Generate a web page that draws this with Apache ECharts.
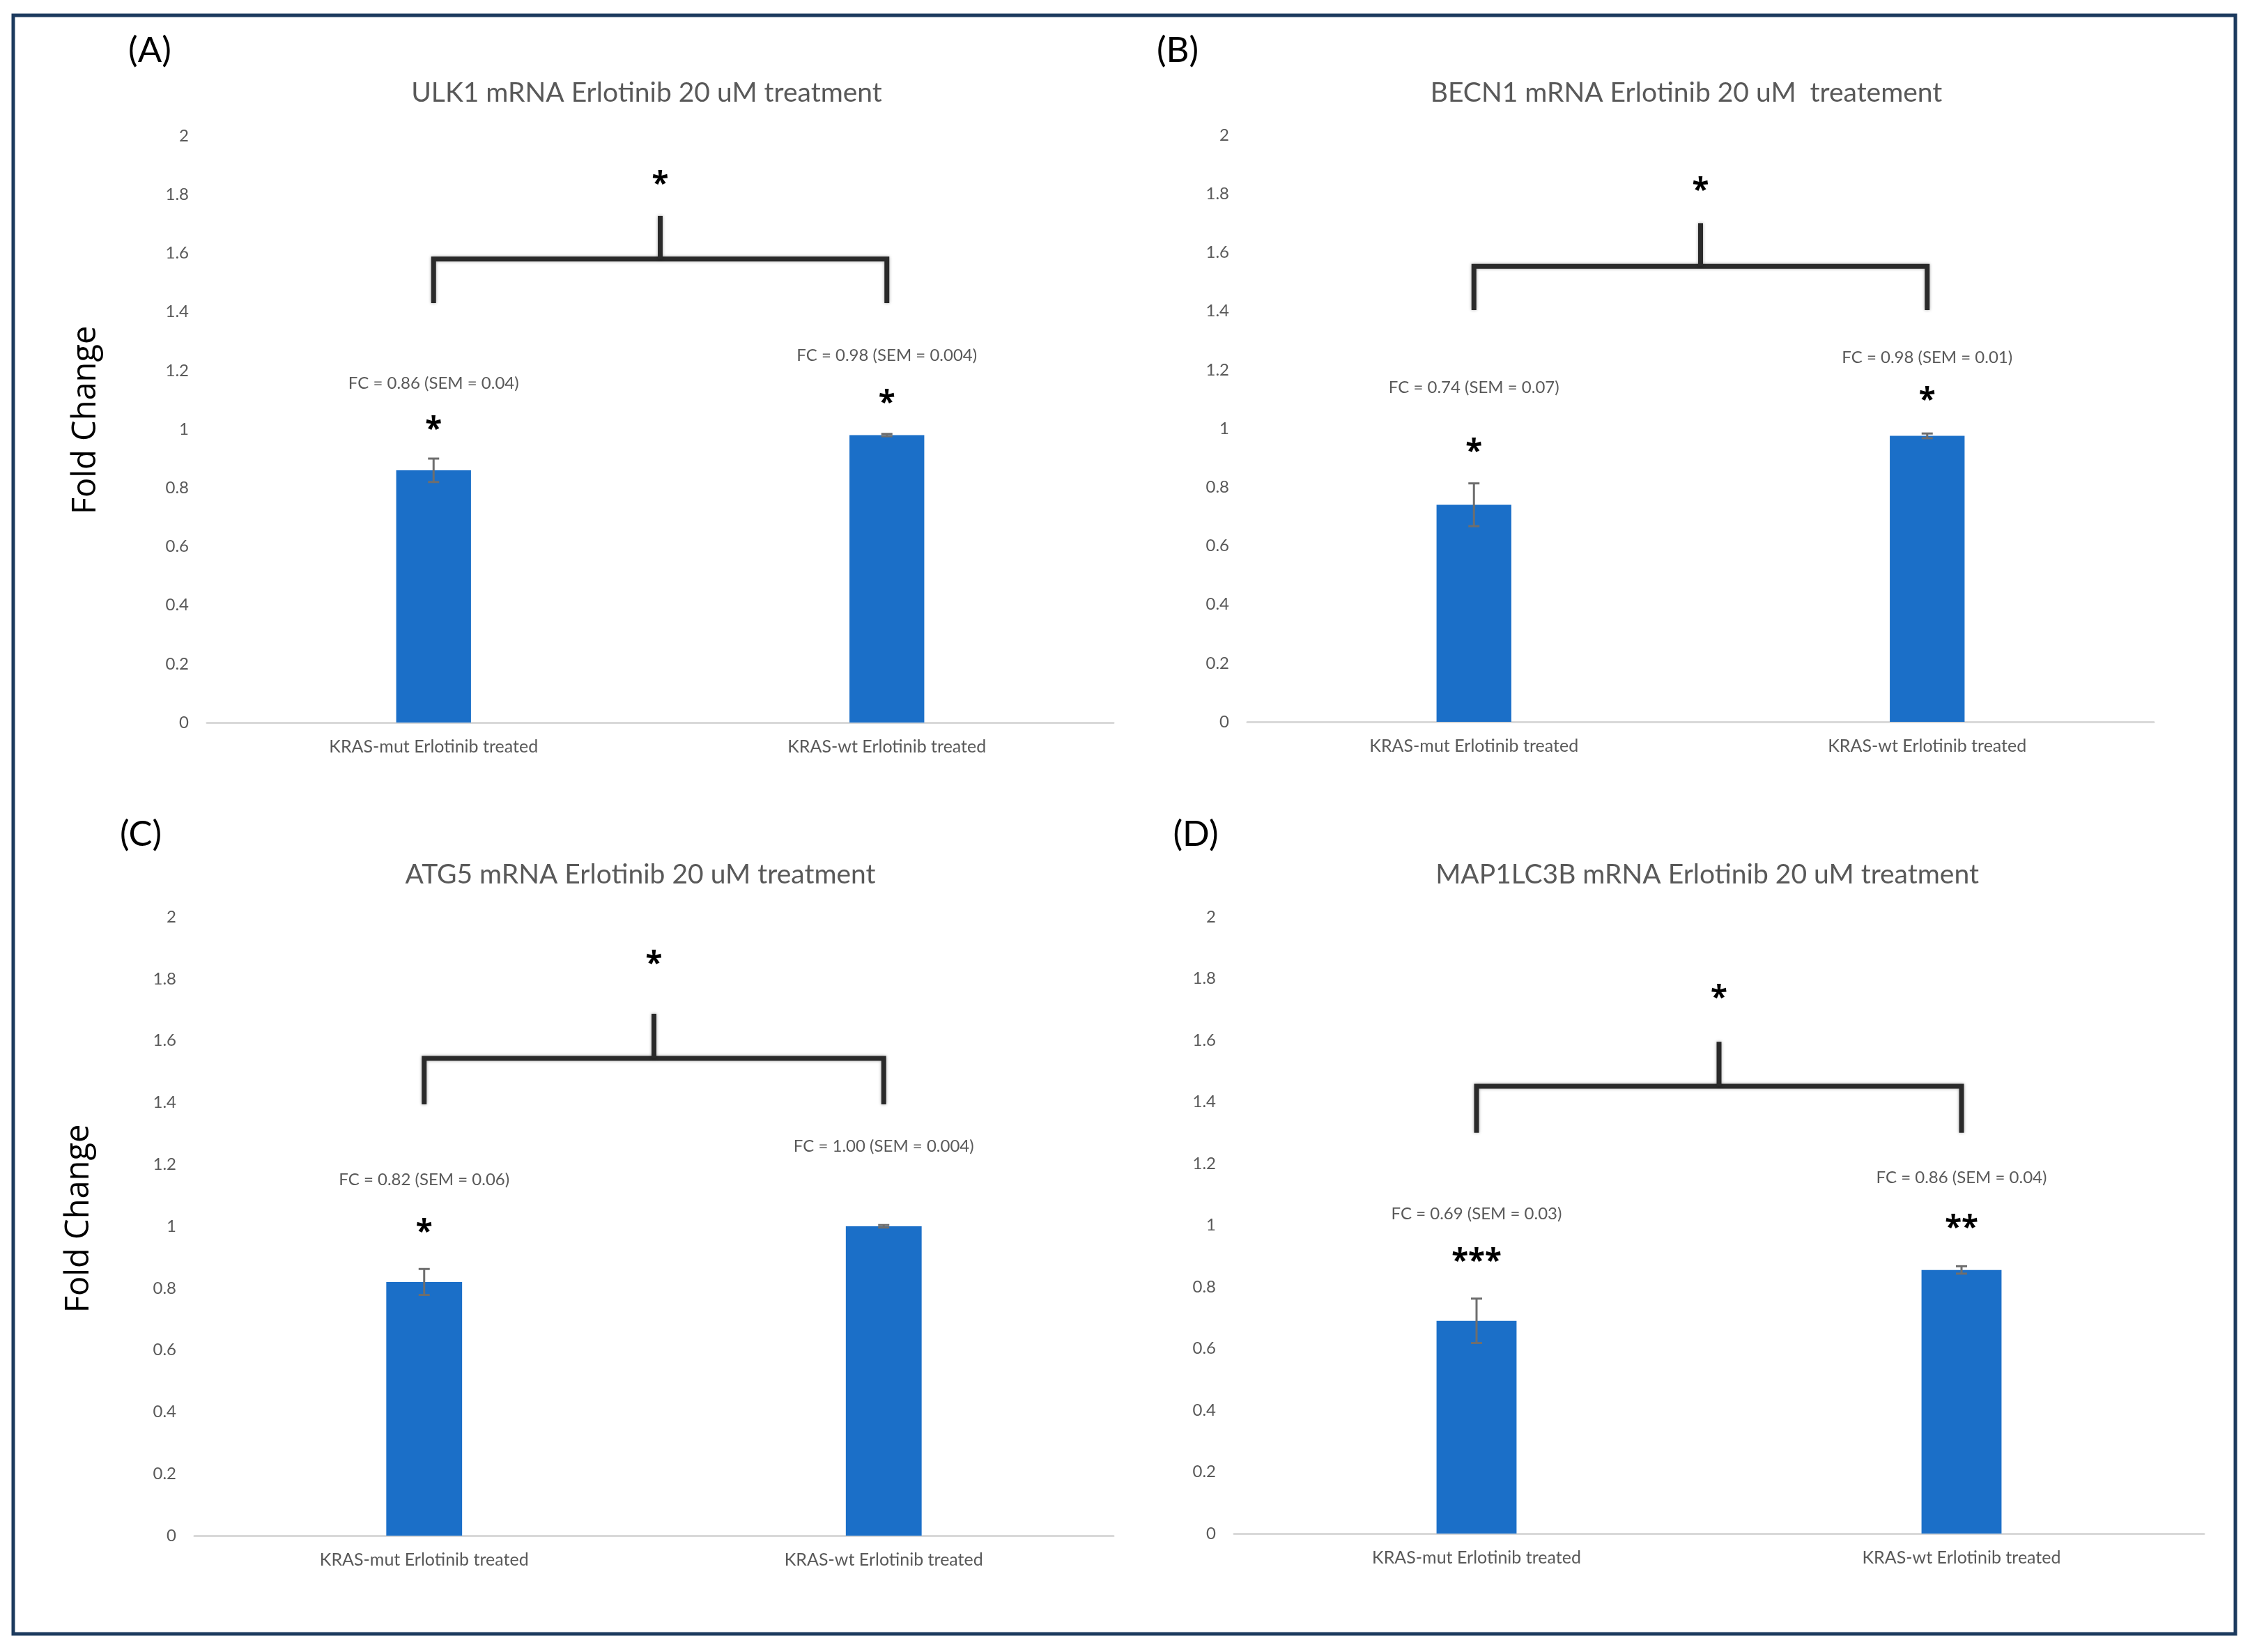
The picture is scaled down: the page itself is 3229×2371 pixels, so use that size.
<!DOCTYPE html>
<html>
<head>
    <meta charset="utf-8">
    <title>Erlotinib autophagy mRNA</title>
    <style type="text/css">
        html, body { margin: 0; padding: 0; background: #ffffff; }
        #main { width: 3229px; height: 2371px; }
    </style>
</head>
<body>
<div id="main"></div>

<script src="https://cdn.jsdelivr.net/npm/echarts/dist/echarts.min.js"></script>
<script>
    // ---- data ----
    var categories = ['KRAS-mut Erlotinib treated', 'KRAS-wt Erlotinib treated'];
    var panelLetters = ['(A)', '(B)', '(C)', '(D)'];
    var panelTitles = [
        'ULK1 mRNA Erlotinib 20 uM treatment',
        'BECN1 mRNA Erlotinib 20 uM  treatement',
        'ATG5 mRNA Erlotinib 20 uM treatment',
        'MAP1LC3B mRNA Erlotinib 20 uM treatment'
    ];
    var foldChange = [[0.86, 0.98], [0.74, 0.975], [0.82, 1.00], [0.69, 0.855]];
    var errBar = [[0.04, 0.004], [0.073, 0.008], [0.042, 0.004], [0.072, 0.012]];
    var fcText = [
        ['FC = 0.86 (SEM = 0.04)', 'FC = 0.98 (SEM = 0.004)'],
        ['FC = 0.74 (SEM = 0.07)', 'FC = 0.98 (SEM = 0.01)'],
        ['FC = 0.82 (SEM = 0.06)', 'FC = 1.00 (SEM = 0.004)'],
        ['FC = 0.69 (SEM = 0.03)', 'FC = 0.86 (SEM = 0.04)']
    ];
    var barStars = [['*', '*'], ['*', '*'], ['*', ''], ['***', '**']];
    var groupStars = ['*', '*', '*', '*'];
    var yAxisName = ['Fold Change', '', 'Fold Change', ''];
    var yMin = 0, yMax = 2, yStep = 0.2;

    // ---- layout (pixels and annotation heights in axis units) ----
    var panels = [
        {grid: {left: 297, top: 195, width: 1301, height: 842}, title: [923, 133], letter: [210, 73], yName: [124, 603],
            fcY: [1.157, 1.252], starY: [1.019, 1.109], bracket: [1.43, 1.58, 1.727, 1.853]},
        {grid: {left: 1790, top: 194, width: 1301, height: 842}, title: [2415, 133], letter: [1685, 73], yName: null,
            fcY: [1.14, 1.242], starY: [0.94, 1.116], bracket: [1.404, 1.553, 1.70, 1.83]},
        {grid: {left: 279, top: 1316, width: 1319, height: 888}, title: [914, 1255], letter: [197, 1198], yName: [114, 1749],
            fcY: [1.151, 1.259], starY: [0.998, 1.1], bracket: [1.394, 1.543, 1.687, 1.865]},
        {grid: {left: 1771, top: 1316, width: 1392, height: 885}, title: [2445, 1255], letter: [1711, 1198], yName: null,
            fcY: [1.037, 1.155], starY: [0.90, 1.01], bracket: [1.30, 1.451, 1.595, 1.754]}
    ];

    var barColor = '#1b6fc8';
    var textGray = '#595959';
    var labelFont = 'Lato, "Open Sans", sans-serif';

    var chart = echarts.init(document.getElementById('main'));

    var grids = [], xAxes = [], yAxes = [], titles = [], series = [], graphics = [];

    panels.forEach(function (p, k) {
        grids.push(Object.assign({containLabel: false, outerBoundsMode: 'none'}, p.grid));
        xAxes.push({
            type: 'category', gridIndex: k, data: categories,
            axisLine: {lineStyle: {color: '#d9d9d9', width: 3}},
            axisTick: {show: false},
            axisLabel: {color: textGray, fontFamily: labelFont, fontSize: 25, margin: 22}
        });
        yAxes.push({
            type: 'value', gridIndex: k, min: yMin, max: yMax, interval: yStep,
            axisLine: {show: false}, axisTick: {show: false}, splitLine: {show: false},
            axisLabel: {color: textGray, fontFamily: labelFont, fontSize: 24, margin: 26}
        });
        titles.push({
            text: panelTitles[k], left: p.title[0], top: p.title[1] - 24, textAlign: 'center',
            textStyle: {color: textGray, fontFamily: labelFont, fontSize: 39, fontWeight: 'normal'}
        });
        titles.push({
            text: panelLetters[k], left: p.letter[0], top: p.letter[1] - 31, textAlign: 'center',
            textStyle: {color: '#000000', fontFamily: labelFont, fontSize: 51, fontWeight: 'normal'}
        });
        if (p.yName) {
            graphics.push({
                type: 'text', x: p.yName[0], y: p.yName[1], rotation: Math.PI / 2,
                style: {text: yAxisName[k], fill: '#000000', font: '47px "Open Sans", sans-serif',
                    textAlign: 'center', textVerticalAlign: 'middle'}
            });
        }

        // bars
        series.push({
            type: 'bar', xAxisIndex: k, yAxisIndex: k, barWidth: '16.5%',
            itemStyle: {color: barColor},
            data: foldChange[k]
        });

        // error bars
        series.push({
            type: 'custom', xAxisIndex: k, yAxisIndex: k, z: 5,
            data: foldChange[k].map(function (v, i) { return [i, v, errBar[k][i]]; }),
            encode: {x: 0, y: 1},
            renderItem: function (params, api) {
                var i = api.value(0), v = api.value(1), e = api.value(2);
                var top = api.coord([i, v + e]);
                var bot = api.coord([i, v - e]);
                var x = top[0], st = {stroke: '#6e6e6e', lineWidth: 3};
                return {type: 'group', children: [
                    {type: 'line', shape: {x1: x, y1: top[1], x2: x, y2: bot[1]}, style: st},
                    {type: 'line', shape: {x1: x - 8, y1: top[1], x2: x + 8, y2: top[1]}, style: st},
                    {type: 'line', shape: {x1: x - 8, y1: bot[1], x2: x + 8, y2: bot[1]}, style: st}
                ]};
            }
        });

        // FC texts above the bars
        series.push({
            type: 'custom', xAxisIndex: k, yAxisIndex: k, z: 6,
            data: p.fcY.map(function (y, i) { return [i, y]; }),
            encode: {x: 0, y: 1},
            renderItem: function (params, api) {
                var c = api.coord([api.value(0), api.value(1)]);
                return {type: 'text', x: c[0], y: c[1], style: {
                    text: fcText[k][params.dataIndex], fill: textGray,
                    font: '24px Lato, "Open Sans", sans-serif', textAlign: 'center', textVerticalAlign: 'middle'}};
            }
        });

        // significance stars over each bar
        series.push({
            type: 'custom', xAxisIndex: k, yAxisIndex: k, z: 6,
            data: p.starY.map(function (y, i) { return [i, y]; }),
            encode: {x: 0, y: 1},
            renderItem: function (params, api) {
                var s = barStars[k][params.dataIndex];
                if (!s) return null;
                var c = api.coord([api.value(0), api.value(1)]);
                return {type: 'text', x: c[0], y: c[1] + 9, style: {
                    text: s, fill: '#000000',
                    font: 'bold 44px "Noto Sans", sans-serif', textAlign: 'center', textVerticalAlign: 'middle'}};
            }
        });

        // bracket between the two groups
        series.push({
            type: 'custom', xAxisIndex: k, yAxisIndex: k, z: 6,
            data: [[0, p.bracket[0]]],
            encode: {x: 0, y: 1},
            renderItem: function (params, api) {
                var b = p.bracket;
                var l0 = api.coord([0, b[0]]), l1 = api.coord([0, b[1]]);
                var r1 = api.coord([1, b[1]]), r0 = api.coord([1, b[0]]);
                var mx = (l1[0] + r1[0]) / 2;
                var st = api.coord([0, b[2]])[1];
                var sy = api.coord([0, b[3]])[1];
                var ls = {stroke: '#2a2a2a', lineWidth: 7, fill: null, lineJoin: 'miter',
                    shadowBlur: 4, shadowColor: 'rgba(0,0,0,0.35)'};
                return {type: 'group', children: [
                    {type: 'polyline', shape: {points: [l0, l1, r1, r0]}, style: ls},
                    {type: 'line', shape: {x1: mx, y1: l1[1], x2: mx, y2: st}, style: ls},
                    {type: 'text', x: mx, y: sy + 9, style: {text: groupStars[k], fill: '#000000',
                        font: 'bold 44px "Noto Sans", sans-serif', textAlign: 'center', textVerticalAlign: 'middle'}}
                ]};
            }
        });
    });

    // outer frame
    graphics.push({
        type: 'rect', shape: {x: 19, y: 22, width: 3189, height: 2323},
        style: {fill: null, stroke: '#1c3a5e', lineWidth: 5}, z: 100
    });

    var option = {
        animation: false,
        backgroundColor: '#ffffff',
        textStyle: {fontFamily: labelFont},
        title: titles,
        grid: grids,
        xAxis: xAxes,
        yAxis: yAxes,
        series: series,
        graphic: graphics
    };
    chart.setOption(option);
</script>
</body>
</html>
